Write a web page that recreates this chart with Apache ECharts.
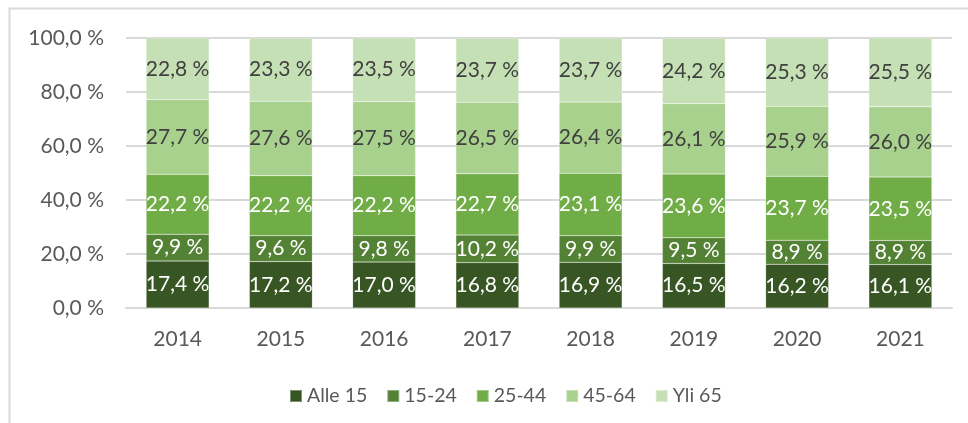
<!DOCTYPE html>
<html>
<head>
<meta charset="utf-8">
<script src="https://cdn.jsdelivr.net/npm/echarts@6/dist/echarts.min.js"></script>
<style>
  html, body { margin: 0; padding: 0; background: #fff; }
  #chart { width: 968px; height: 423px; }
</style>
</head>
<body>
<div id="chart"></div>
<script>
// vuodet ja ikäryhmien osuudet (%)
const years = ['2014', '2015', '2016', '2017', '2018', '2019', '2020', '2021']
const alle15 = [17.4, 17.2, 17.0, 16.8, 16.9, 16.5, 16.2, 16.1]
const v15_24 = [9.9, 9.6, 9.8, 10.2, 9.9, 9.5, 8.9, 8.9]
const v25_44 = [22.2, 22.2, 22.2, 22.7, 23.1, 23.6, 23.7, 23.5]
const v45_64 = [27.7, 27.6, 27.5, 26.5, 26.4, 26.1, 25.9, 26.0]
const yli65 = [22.8, 23.3, 23.5, 23.7, 23.7, 24.2, 25.3, 25.5]

const groups = [
  { name: 'Alle 15', data: alle15, color: '#375623', text: '#ffffff' },
  { name: '15-24', data: v15_24, color: '#548235', text: '#ffffff' },
  { name: '25-44', data: v25_44, color: '#70ad47', text: '#ffffff' },
  { name: '45-64', data: v45_64, color: '#a9d18e', text: '#404040' },
  { name: 'Yli 65', data: yli65, color: '#c5e0b4', text: '#404040' }
]

const fmt = v => v.toFixed(1).replace('.', ',') + ' %'
const font = 'Lato, "Open Sans", sans-serif'

const chart = echarts.init(document.getElementById('chart'))
chart.setOption({
  animation: false,
  textStyle: { fontFamily: font },
  graphic: [{
    type: 'rect',
    shape: { x: 9.5, y: 8.5, width: 980, height: 440 },
    style: { fill: 'none', stroke: '#d9d9d9', lineWidth: 2 },
    silent: true
  }],
  grid: { left: 126, right: 16, top: 38, bottom: 115 },
  legend: {
    top: 381,
    left: 284,
    itemWidth: 12,
    itemHeight: 12,
    itemGap: 19,
    icon: 'rect',
    textStyle: { fontSize: 19.5, color: '#595959', fontFamily: font }
  },
  xAxis: {
    type: 'category',
    data: years,
    axisLine: { lineStyle: { color: '#d9d9d9', width: 2 } },
    axisTick: { show: false },
    axisLabel: { fontSize: 21, color: '#595959', margin: 21, fontFamily: font }
  },
  yAxis: {
    type: 'value',
    min: 0,
    max: 100,
    interval: 20,
    axisLine: { show: false },
    axisTick: { show: false },
    splitLine: { lineStyle: { color: '#d9d9d9', width: 2 } },
    axisLabel: {
      fontSize: 21,
      color: '#595959',
      margin: 22,
      fontFamily: font,
      formatter: v => v.toFixed(1).replace('.', ',') + ' %'
    }
  },
  series: groups.map(g => ({
    name: g.name,
    type: 'bar',
    stack: 'total',
    barWidth: '61%',
    data: g.data,
    itemStyle: { color: g.color, borderColor: 'rgba(255,255,255,0.35)', borderWidth: 0.5 },
    label: {
      show: true,
      position: 'inside',
      color: g.text,
      fontSize: 21,
      fontFamily: font,
      formatter: p => fmt(p.value)
    }
  }))
})
</script>
</body>
</html>
